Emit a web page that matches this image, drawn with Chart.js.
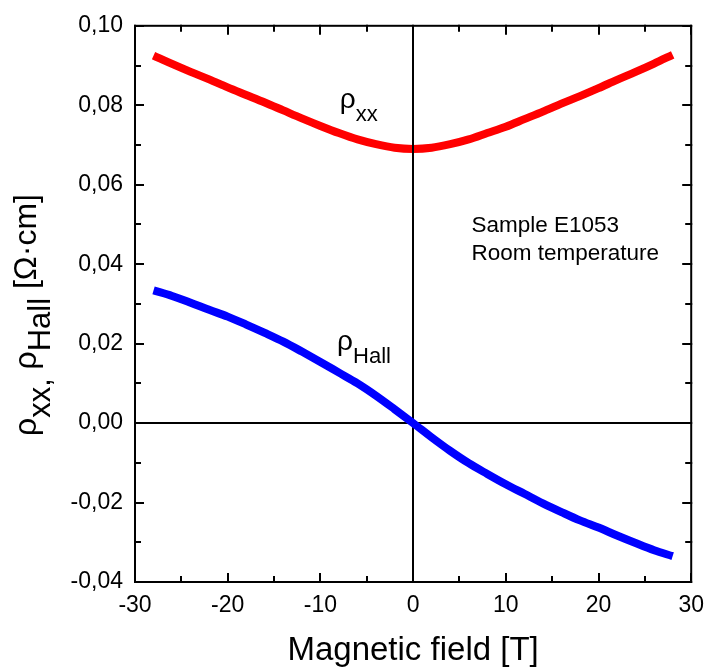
<!DOCTYPE html>
<html>
<head>
<meta charset="utf-8">
<script src="https://cdn.jsdelivr.net/npm/chart.js@4.4.0/dist/chart.umd.min.js"></script>
<style>
  html, body { margin: 0; padding: 0; background: #fff; }
  #wrap { width: 714px; height: 671px; }
</style>
</head>
<body>
<div id="wrap"><canvas id="rhoCanvas"></canvas></div>
<script>
// magnetic field [T]
var field = [-28, -26, -24, -22, -20, -18, -16, -14, -12, -10, -8, -6, -4, -2, 0,
             2, 4, 6, 8, 10, 12, 14, 16, 18, 20, 22, 24, 26, 28];
// rho_xx [Ohm cm]
var rhoXX = [0.0925, 0.0904, 0.0884, 0.0865, 0.0845, 0.0826, 0.0807, 0.0787, 0.0767, 0.0748,
             0.0730, 0.0714, 0.0702, 0.0693, 0.0690,
             0.0693, 0.0702, 0.0714, 0.0730, 0.0746, 0.0765, 0.0784, 0.0804, 0.0823, 0.0843,
             0.0864, 0.0884, 0.0905, 0.0927];
// rho_Hall [Ohm cm]
var rhoHall = [0.0334, 0.0320, 0.0303, 0.0285, 0.0268, 0.0248, 0.0227, 0.0205, 0.0180, 0.0154,
               0.0127, 0.0100, 0.0069, 0.0035, 0.0000,
               -0.0036, -0.0070, -0.0101, -0.0128, -0.0154, -0.0178, -0.0202, -0.0224, -0.0245,
               -0.0263, -0.0283, -0.0302, -0.0320, -0.0335];

var xTicks = [-30, -20, -10, 0, 10, 20, 30];
var yTicks = [-0.04, -0.02, 0.00, 0.02, 0.04, 0.06, 0.08, 0.10];

var FONT = "'Liberation Sans', Arial, sans-serif";

function pts(ys) {
    return field.map(function (x, i) { return { x: x, y: ys[i] }; });
}

// text pieces: [text, size, baseline shift]
function drawPieces(ctx, pieces, x, y) {
    pieces.forEach(function (p) {
        ctx.font = p[1] + "px " + FONT;
        ctx.fillText(p[0], x, y + p[2]);
        x += ctx.measureText(p[0]).width;
    });
}
function piecesWidth(ctx, pieces) {
    var w = 0;
    pieces.forEach(function (p) {
        ctx.font = p[1] + "px " + FONT;
        w += ctx.measureText(p[0]).width;
    });
    return w;
}

var yTitle = [["ρ", 32, 0], ["xx, ", 31, 14], ["ρ", 32, 0], ["Hall", 31, 14], [" [Ω·cm]", 32, 0]];

// frame, inward ticks, zero lines and the text labels
var framePlugin = {
    id: "frame",
    afterDatasetDraw: function (chart, args) {
        if (args.index !== 1) return;
        var ctx = chart.ctx, a = chart.chartArea;
        var xs = chart.scales.x, ys = chart.scales.y;
        ctx.save();
        ctx.strokeStyle = "#000";
        ctx.lineWidth = 2;
        var x0 = Math.round(xs.getPixelForValue(0));
        var y0 = Math.round(ys.getPixelForValue(0));
        ctx.beginPath();
        ctx.moveTo(x0, a.top); ctx.lineTo(x0, a.bottom);
        ctx.moveTo(a.left, y0); ctx.lineTo(a.right, y0);
        ctx.stroke();
        ctx.restore();
    },
    afterDraw: function (chart) {
        var ctx = chart.ctx, a = chart.chartArea;
        var xs = chart.scales.x, ys = chart.scales.y;
        ctx.save();
        ctx.strokeStyle = "#000";
        ctx.lineWidth = 2;
        ctx.lineCap = "square";
        ctx.strokeRect(a.left, a.top, a.right - a.left, a.bottom - a.top);
        ctx.beginPath();
        var v, p, len;
        for (v = -30; v <= 30; v += 5) {
            p = Math.round(xs.getPixelForValue(v));
            len = (v % 10 === 0) ? 8 : 5;
            ctx.moveTo(p, a.bottom); ctx.lineTo(p, a.bottom - len);
            ctx.moveTo(p, a.top); ctx.lineTo(p, a.top + len);
        }
        for (var k = -4; k <= 10; k++) {
            p = Math.round(ys.getPixelForValue(k / 100));
            len = (k % 2 === 0) ? 8 : 5;
            ctx.moveTo(a.left, p); ctx.lineTo(a.left + len, p);
            ctx.moveTo(a.right, p); ctx.lineTo(a.right - len, p);
        }
        ctx.stroke();

        ctx.fillStyle = "#000";
        ctx.textBaseline = "alphabetic";
        ctx.textAlign = "left";
        // rho_xx
        drawPieces(ctx, [["ρ", 28, 0], ["xx", 22, 13]],
            xs.getPixelForValue(-7.9), ys.getPixelForValue(0.0793));
        // rho_Hall
        drawPieces(ctx, [["ρ", 28, 0], ["Hall", 22, 13]],
            xs.getPixelForValue(-8.2), ys.getPixelForValue(0.0183));
        // sample info
        ctx.font = "22.5px " + FONT;
        ctx.fillText("Sample E1053", xs.getPixelForValue(6.3), ys.getPixelForValue(0.0481));
        ctx.fillText("Room temperature", xs.getPixelForValue(6.3), ys.getPixelForValue(0.0411));

        // y axis title, rotated
        var w = piecesWidth(ctx, yTitle);
        ctx.translate(36, 315);
        ctx.rotate(-Math.PI / 2);
        drawPieces(ctx, yTitle, -w / 2, 0);
        ctx.restore();
    }
};

var ctx = document.getElementById("rhoCanvas");
var chart = new Chart(ctx, {
    type: "line",
    data: {
        datasets: [{
            label: "rhoHall",
            data: pts(rhoHall),
            borderColor: "#0000ff",
            borderWidth: 8,
            pointRadius: 0,
            cubicInterpolationMode: "monotone",
            borderCapStyle: "butt",
            fill: false
        }, {
            label: "rhoXX",
            data: pts(rhoXX),
            borderColor: "#ff0000",
            borderWidth: 8,
            pointRadius: 0,
            cubicInterpolationMode: "monotone",
            borderCapStyle: "butt",
            fill: false
        }]
    },
    options: {
        responsive: true,
        maintainAspectRatio: false,
        animation: false,
        layout: { padding: { top: 20, right: 17, left: 0, bottom: 0 } },
        plugins: {
            legend: { display: false },
            tooltip: { enabled: false }
        },
        scales: {
            x: {
                type: "linear",
                min: -30,
                max: 30,
                afterBuildTicks: function (s) { s.ticks = xTicks.map(function (v) { return { value: v }; }); },
                afterFit: function (s) { s.height = 89; },
                grid: { display: false, drawTicks: false },
                border: { display: false },
                ticks: {
                    padding: 10,
                    color: "#000",
                    font: { family: FONT, size: 23 },
                    maxRotation: 0
                },
                title: {
                    display: true,
                    text: "Magnetic field [T]",
                    color: "#000",
                    font: { family: FONT, size: 33 },
                    padding: { top: 0, bottom: 0 }
                }
            },
            y: {
                type: "linear",
                min: -0.04,
                max: 0.10,
                afterBuildTicks: function (s) { s.ticks = yTicks.map(function (v) { return { value: v }; }); },
                afterFit: function (s) { s.width = 135; },
                grid: { display: false, drawTicks: false },
                border: { display: false },
                ticks: {
                    padding: 12,
                    color: "#000",
                    font: { family: FONT, size: 23 },
                    callback: function (v) { return v.toFixed(2).replace(".", ","); }
                },
                title: { display: false }
            }
        }
    },
    plugins: [framePlugin]
});
</script>
</body>
</html>
